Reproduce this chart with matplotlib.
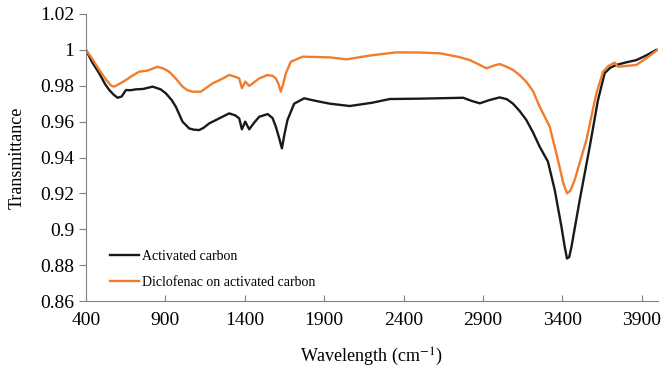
import matplotlib
matplotlib.use('Agg')
import matplotlib.pyplot as plt

# Activated carbon (black)
ac_x = [400, 440, 484, 520, 547, 575, 599, 625, 652, 680, 715, 760, 820, 870,
        903, 940, 966, 1008, 1050, 1080, 1113, 1140, 1176, 1239, 1302, 1340,
        1365, 1382, 1403, 1428, 1460, 1491, 1544, 1575, 1596, 1616, 1634, 1650,
        1669, 1711, 1774, 1850, 1936, 2061, 2200, 2313, 2500, 2775, 2830, 2880,
        2940, 3005, 3050, 3089, 3130, 3173, 3215, 3257, 3309, 3352, 3394, 3415,
        3429, 3443, 3457, 3509, 3572, 3624, 3666, 3700, 3740, 3800, 3866, 3930,
        3991, 4000]
ac_y = [1.0, 0.993, 0.9869, 0.981, 0.9776, 0.975, 0.9733, 0.974, 0.9776,
        0.9775, 0.978, 0.9782, 0.9795, 0.978, 0.9758, 0.972, 0.9683, 0.960,
        0.9562, 0.9555, 0.9553, 0.9565, 0.959, 0.9618, 0.9646, 0.9635, 0.9618,
        0.9557, 0.960, 0.9557, 0.9595, 0.9627, 0.9642, 0.962, 0.9571, 0.951,
        0.9451, 0.953, 0.9609, 0.970, 0.973, 0.9715, 0.970, 0.9687, 0.9705,
        0.9726, 0.9728, 0.9733, 0.9715, 0.9702, 0.972, 0.9735, 0.9725, 0.970,
        0.966, 0.9609, 0.954, 0.946, 0.9377, 0.9218, 0.9014, 0.890, 0.8837,
        0.8845, 0.8902, 0.9163, 0.946, 0.972, 0.987, 0.990, 0.9916, 0.993,
        0.9943, 0.997, 1.0, 1.0]

# Diclofenac on activated carbon (orange)
dc_x = [400, 440, 484, 530, 560, 578, 610, 652, 690, 735, 790, 851, 890, 924,
        966, 1008, 1040, 1071, 1124, 1160, 1197, 1250, 1302, 1340, 1365, 1382,
        1403, 1428, 1460, 1491, 1544, 1575, 1596, 1612, 1627, 1642, 1659, 1690,
        1764, 1850, 1936, 2040, 2200, 2355, 2500, 2628, 2750, 2817, 2880, 2922,
        2960, 3005, 3050, 3089, 3130, 3173, 3215, 3257, 3320, 3372, 3405, 3429,
        3450, 3477, 3551, 3614, 3656, 3690, 3729, 3750, 3800, 3866, 3928, 3991,
        4000]
dc_y = [1.0, 0.995, 0.9888, 0.983, 0.980, 0.9795, 0.981, 0.9832, 0.9855,
        0.9878, 0.9885, 0.9906, 0.9895, 0.9878, 0.984, 0.9795, 0.9775, 0.9767,
        0.9767, 0.979, 0.9813, 0.9835, 0.986, 0.985, 0.9841, 0.9786, 0.9823,
        0.9799, 0.982, 0.9841, 0.986, 0.9855, 0.9841, 0.981, 0.9767, 0.981,
        0.987, 0.9934, 0.9962, 0.996, 0.9958, 0.9947, 0.997, 0.9986, 0.9985,
        0.9981, 0.996, 0.9943, 0.9916, 0.9897, 0.991, 0.9921, 0.9905, 0.9888,
        0.986, 0.9822, 0.977, 0.9683, 0.9572, 0.9386, 0.926, 0.920, 0.9215,
        0.9274, 0.9497, 0.9758, 0.9878, 0.991, 0.9929, 0.9906, 0.991, 0.9916,
        0.9953, 0.9995, 1.0]

xticks = [400, 900, 1400, 1900, 2400, 2900, 3400, 3900]
yticks = [0.86, 0.88, 0.9, 0.92, 0.94, 0.96, 0.98, 1.0, 1.02]
ytick_labels = ['0.86', '0.88', '0.9', '0.92', '0.94', '0.96', '0.98', '1', '1.02']

plt.rcParams['font.family'] = ['Liberation Serif', 'DejaVu Serif']
plt.rcParams['mathtext.fontset'] = 'stix'

fig = plt.figure(figsize=(6.61, 3.68), dpi=100)
ax = fig.add_axes([0.130, 0.182, 0.865, 0.780])

ax.plot(ac_x, ac_y, color='#1a1a1a', lw=1.7, label='Activated carbon')
ax.plot(dc_x, dc_y, color='#f07d2e', lw=1.7, label='Diclofenac on activated carbon')

ax.set_xlim(400, 4000)
ax.set_ylim(0.86, 1.02)
ax.set_xticks(xticks)
ax.set_yticks(yticks)
ax.set_yticklabels(ytick_labels)
ax.tick_params(axis='x', direction='in', length=4, labelsize=14, pad=8, color='#808080')
ax.tick_params(axis='y', direction='out', length=5, labelsize=14, color='#808080')

for s in ['top', 'right']:
    ax.spines[s].set_visible(False)
for s in ['left', 'bottom']:
    ax.spines[s].set_color('#808080')

ax.set_xlabel('Wavelength (cm$^{-1}$)', fontsize=13, labelpad=12)
ax.set_ylabel('Transmittance', fontsize=13, labelpad=10)

ax.legend(loc='lower left', frameon=False, fontsize=10, handlelength=2.1,
          handletextpad=0.2, bbox_to_anchor=(0.02, 0.0), labelspacing=0.9)

fig.savefig('out.png', dpi=100)
